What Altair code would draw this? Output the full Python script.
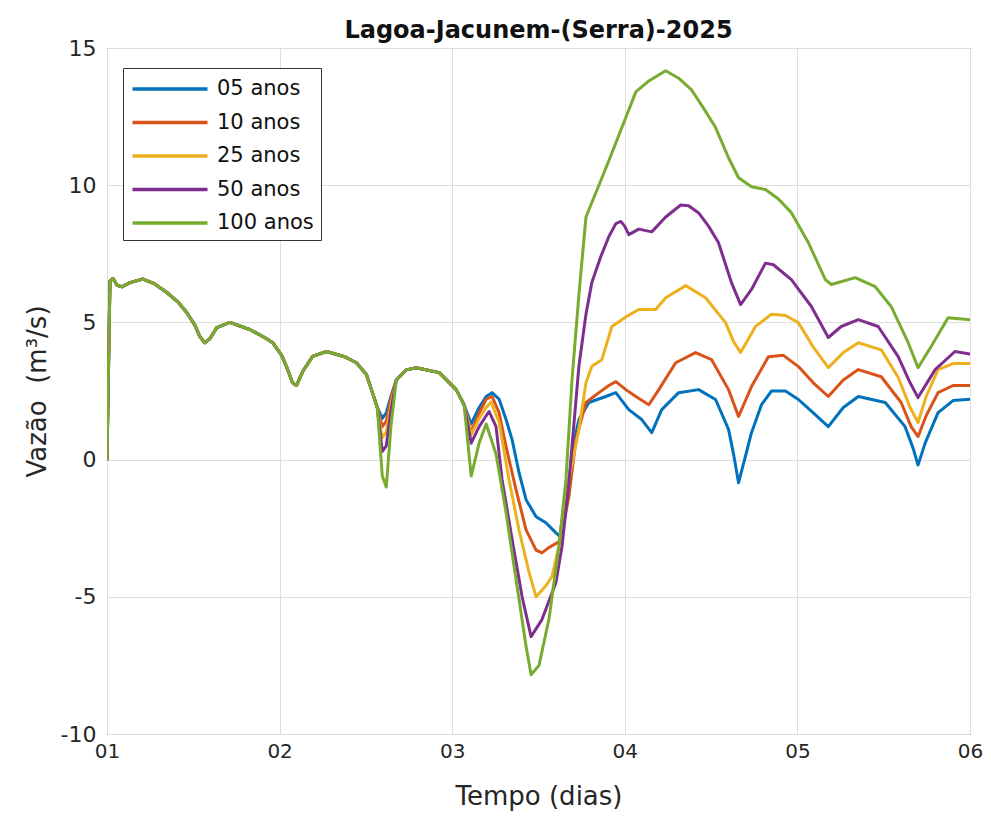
import altair as alt
import pandas as pd

series_names = ["05 anos", "10 anos", "25 anos", "50 anos", "100 anos"]
series_colors = ["#0072BD", "#D95319", "#EDB120", "#7E2F8E", "#77AC30"]

# shared start (days 1 -> ~2.57)
common1_days = [1.000, 1.017, 1.035, 1.058, 1.087, 1.133, 1.208, 1.277, 1.347, 1.410, 1.462, 1.509,
                1.538, 1.566, 1.595, 1.636, 1.711, 1.827, 1.913, 1.960, 2.012, 2.040, 2.075, 2.098,
                2.133, 2.191, 2.272, 2.376, 2.445, 2.503, 2.538, 2.566]
common1_vals = [0.0, 6.5, 6.6, 6.35, 6.3, 6.45, 6.58, 6.4, 6.09, 5.75, 5.36, 4.9,
                4.48, 4.26, 4.4, 4.81, 5.0, 4.74, 4.45, 4.26, 3.8, 3.39, 2.8, 2.7,
                3.2, 3.76, 3.94, 3.75, 3.53, 3.1, 2.44, 1.9]

# first dip (day ~2.6)
dip1_days = [2.595, 2.618, 2.645]
dip1_vals = {
    "05 anos": [1.5, 1.7, 2.3],
    "10 anos": [1.2, 1.4, 2.2],
    "25 anos": [0.8, 1.0, 2.0],
    "50 anos": [0.3, 0.5, 1.8],
    "100 anos": [-0.6, -1.0, 1.2],
}

# shared middle (days 2.68 -> 3.07)
common2_days = [2.676, 2.734, 2.792, 2.925, 3.023, 3.069]
common2_vals = [2.9, 3.27, 3.35, 3.17, 2.55, 2.0]

# individual tails
blue_days = [3.110, 3.156, 3.197, 3.231, 3.272, 3.312, 3.347, 3.387, 3.428, 3.486, 3.543, 3.601,
             3.624, 3.653, 3.676, 3.705, 3.734, 3.792, 3.890, 3.948, 4.023, 4.098, 4.156, 4.214,
             4.312, 4.428, 4.526, 4.601, 4.630, 4.659, 4.694, 4.734, 4.792, 4.850, 4.931, 5.006,
             5.092, 5.179, 5.266, 5.353, 5.509, 5.624, 5.671, 5.699, 5.740, 5.815, 5.902, 6.000]
blue_vals = [1.3, 1.9, 2.3, 2.44, 2.2, 1.46, 0.73, -0.47, -1.46, -2.08, -2.3, -2.67,
             -2.8, -1.5, -0.73, 0.6, 1.46, 2.08, 2.3, 2.44, 1.82, 1.46, 0.98, 1.82,
             2.44, 2.55, 2.19, 1.1, 0.2, -0.84, 0.0, 0.98, 2.0, 2.5, 2.5, 2.19,
             1.7, 1.2, 1.9, 2.3, 2.08, 1.2, 0.4, -0.2, 0.6, 1.71, 2.15, 2.2]

orange_days = [3.110, 3.156, 3.197, 3.231, 3.272, 3.312, 3.370, 3.428, 3.486, 3.520, 3.561, 3.590,
               3.618, 3.647, 3.676, 3.717, 3.775, 3.850, 3.908, 3.948, 4.006, 4.064, 4.139, 4.197,
               4.295, 4.410, 4.503, 4.601, 4.659, 4.734, 4.832, 4.919, 5.006, 5.092, 5.179, 5.266,
               5.353, 5.486, 5.601, 5.659, 5.699, 5.746, 5.815, 5.902, 6.000]
orange_vals = [1.0, 1.7, 2.2, 2.3, 1.7, 0.47, -1.1, -2.56, -3.3, -3.4, -3.2, -3.1,
               -3.0, -2.3, -1.35, 0.73, 2.08, 2.44, 2.7, 2.84, 2.55, 2.3, 2.0, 2.55,
               3.53, 3.9, 3.64, 2.55, 1.57, 2.66, 3.75, 3.8, 3.39, 2.8, 2.3, 2.9,
               3.28, 3.02, 2.08, 1.2, 0.84, 1.6, 2.44, 2.7, 2.7]

yellow_days = [3.110, 3.156, 3.197, 3.225, 3.272, 3.329, 3.387, 3.445, 3.486, 3.543, 3.578, 3.618,
               3.647, 3.676, 3.734, 3.775, 3.809, 3.867, 3.925, 4.006, 4.081, 4.179, 4.237, 4.353,
               4.468, 4.584, 4.630, 4.671, 4.717, 4.757, 4.850, 4.931, 5.006, 5.092, 5.179, 5.266,
               5.353, 5.486, 5.584, 5.653, 5.699, 5.746, 5.815, 5.902, 6.000]
yellow_vals = [0.9, 1.5, 1.9, 2.1, 1.35, -0.73, -2.56, -4.1, -5.0, -4.6, -4.26, -3.17,
               -2.0, -0.73, 1.1, 2.8, 3.4, 3.64, 4.85, 5.2, 5.47, 5.47, 5.9, 6.34,
               5.9, 4.99, 4.3, 3.9, 4.4, 4.85, 5.3, 5.25, 4.99, 4.1, 3.35, 3.9,
               4.26, 4.0, 3.0, 1.9, 1.35, 2.3, 3.28, 3.5, 3.5]

purple_days = [3.110, 3.156, 3.197, 3.214, 3.254, 3.289, 3.347, 3.405, 3.457, 3.520, 3.601, 3.636,
               3.676, 3.694, 3.734, 3.775, 3.809, 3.861, 3.908, 3.948, 3.977, 4.000, 4.023, 4.081,
               4.156, 4.237, 4.324, 4.370, 4.428, 4.486, 4.543, 4.618, 4.671, 4.734, 4.815, 4.861,
               4.965, 5.081, 5.179, 5.254, 5.353, 5.468, 5.584, 5.653, 5.699, 5.798, 5.913, 6.000]
purple_vals = [0.6, 1.2, 1.6, 1.75, 1.2, -0.73, -2.9, -5.0, -6.45, -5.83, -4.48, -3.17,
               -0.84, 0.47, 3.4, 5.3, 6.45, 7.4, 8.13, 8.6, 8.68, 8.5, 8.2, 8.4,
               8.3, 8.84, 9.28, 9.25, 8.99, 8.5, 7.9, 6.45, 5.65, 6.2, 7.16, 7.1,
               6.56, 5.58, 4.45, 4.85, 5.1, 4.85, 3.75, 2.8, 2.26, 3.28, 3.94, 3.85]

green_days = [3.110, 3.156, 3.197, 3.254, 3.312, 3.370, 3.428, 3.457, 3.503, 3.561, 3.618, 3.659,
              3.694, 3.734, 3.775, 3.850, 3.908, 3.983, 4.064, 4.139, 4.237, 4.312, 4.387, 4.457,
              4.526, 4.601, 4.659, 4.734, 4.815, 4.890, 4.965, 5.064, 5.162, 5.197, 5.335, 5.451,
              5.543, 5.642, 5.699, 5.775, 5.873, 6.000]
green_vals = [-0.6, 0.6, 1.3, 0.2, -1.93, -4.37, -6.8, -7.84, -7.5, -5.8, -3.17, -0.73,
              2.9, 6.0, 8.84, 10.0, 10.9, 12.1, 13.4, 13.8, 14.17, 13.9, 13.47, 12.8,
              12.1, 11.0, 10.27, 9.94, 9.84, 9.5, 9.0, 7.9, 6.56, 6.38, 6.63, 6.3,
              5.58, 4.26, 3.35, 4.12, 5.17, 5.1]

tails = {
    "05 anos": (blue_days, blue_vals),
    "10 anos": (orange_days, orange_vals),
    "25 anos": (yellow_days, yellow_vals),
    "50 anos": (purple_days, purple_vals),
    "100 anos": (green_days, green_vals),
}

rows = []
for i, name in enumerate(series_names):
    td, tv = tails[name]
    assert len(td) == len(tv), name
    days = common1_days + dip1_days + common2_days + td
    vals = common1_vals + dip1_vals[name] + common2_vals + tv
    for d, v in zip(days, vals):
        rows.append({"dia": d, "vazao": v, "serie": name, "ordem": i})
df = pd.DataFrame(rows)

FONT = "DejaVu Sans"
TXT = "#262626"

chart = alt.Chart(df).mark_line(strokeWidth=3, strokeJoin="round", strokeCap="round", clip=True).encode(
    x=alt.X("dia:Q",
            scale=alt.Scale(domain=[1, 6], nice=False, zero=False),
            axis=alt.Axis(values=[1, 2, 3, 4, 5, 6], labelExpr="'0' + datum.value",
                          labelFlush=False, labelFontSize=20,
                          title="Tempo (dias)", titlePadding=22, labelPadding=7)),
    y=alt.Y("vazao:Q",
            scale=alt.Scale(domain=[-10, 15], nice=False),
            axis=alt.Axis(values=[-10, -5, 0, 5, 10, 15], labelExpr="'' + datum.value",
                          title="Vazão\u00a0\u00a0(m³/s)", titlePadding=10, labelPadding=11)),
    color=alt.Color("serie:N",
                    scale=alt.Scale(domain=series_names, range=series_colors),
                    legend=alt.Legend(orient="none", legendX=16, legendY=20, title=None,
                                      symbolType="M-3.125,0H3.125", symbolStrokeWidth=3.5, symbolSize=576,
                                      symbolOffset=26, labelOffset=33,
                                      labelFontSize=21, labelFont=FONT, labelColor="#111",
                                      strokeColor="#333", fillColor="white", padding=7,
                                      rowPadding=9.5)),
    order=alt.Order("ordem:Q"),
).properties(
    width=863, height=686,
    title=alt.TitleParams("Lagoa-Jacunem-(Serra)-2025", fontSize=24, font=FONT, fontWeight="bold",
                          color="#111", anchor="middle", offset=7, dy=13),
    autosize=alt.AutoSizeParams(type="none"),
    padding={"left": 99, "top": 40, "right": 13, "bottom": 80},
).configure_view(
    stroke="#444", strokeWidth=1
).configure_axis(
    grid=True, gridColor="#dedede", gridWidth=1,
    domain=False, ticks=False,
    labelFont=FONT, labelFontSize=22, labelColor=TXT,
    titleFont=FONT, titleFontSize=26, titleFontWeight="normal", titleColor=TXT,
)

chart.save("out.html", embed_options={"renderer": "svg", "actions": False})
